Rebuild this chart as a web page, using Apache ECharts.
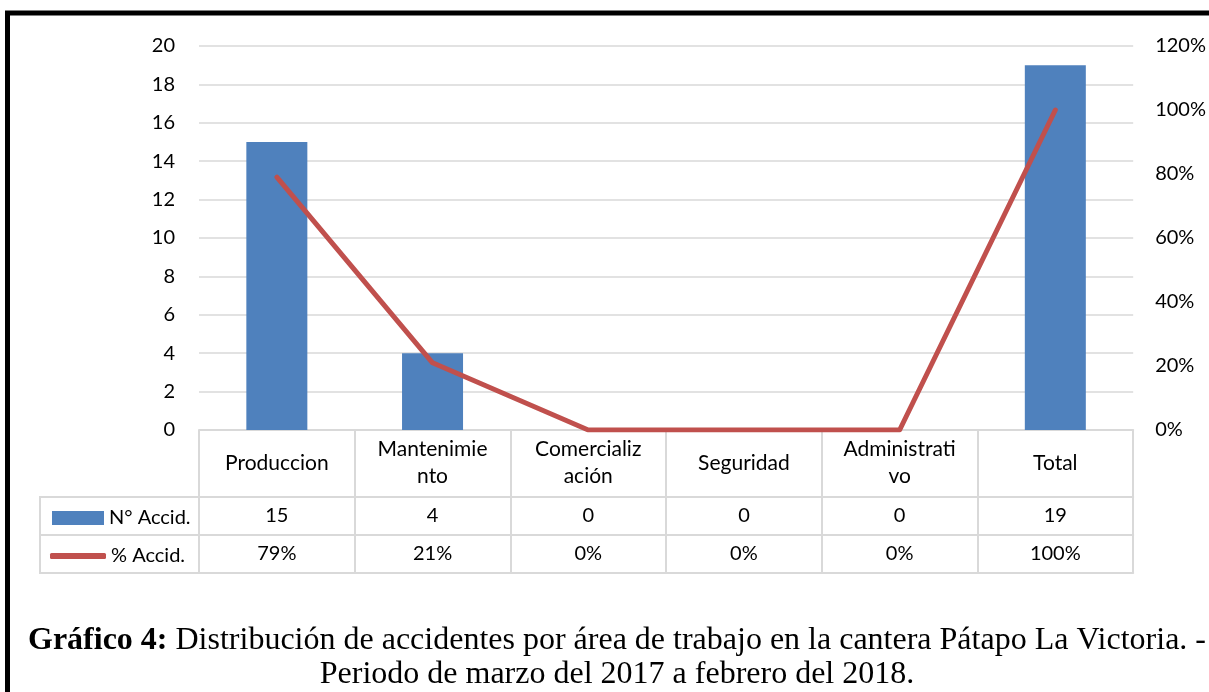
<!DOCTYPE html>
<html>
<head>
<meta charset="utf-8">
<script src="https://cdn.jsdelivr.net/npm/echarts@6/dist/echarts.min.js"></script>
<style>
  html, body { margin: 0; padding: 0; background: #fff; }
  #chart { width: 1209px; height: 692px; }
</style>
</head>
<body>
<div id="chart"></div>
<script>
// datos del grafico
var categorias = ["Produccion", "Mantenimie\nnto", "Comercializ\nación", "Seguridad", "Administrati\nvo", "Total"];
var numAccid = [15, 4, 0, 0, 0, 19];
var pctAccid = [0.79, 0.21, 0, 0, 0, 1.0];
var serieNombres = ["N° Accid.", "% Accid."];
var titulo = "Gráfico 4:";
var subtitulo = "Distribución de accidentes por área de trabajo en la cantera Pátapo La Victoria. -\nPeriodo de marzo del 2017 a febrero del 2018.";

var fuente = "Lato";
var gris = "#d9d9d9";

var myChart = echarts.init(document.getElementById("chart"));

function pct(v) {
  return Math.round(v * 100) + "%";
}

// ejes de la tabla de datos (debajo del grafico)
function ejeTabla(offset, formatter, showLabel) {
  return {
    type: "category",
    data: categorias,
    position: "bottom",
    offset: offset,
    axisLine: { show: true, onZero: false, lineStyle: { color: gris, width: 2 } },
    axisTick: { show: false },
    axisLabel: {
      show: showLabel,
      interval: 0,
      margin: 19,
      verticalAlign: "middle",
      fontSize: 20,
      fontFamily: fuente,
      color: "#000",
      formatter: formatter
    },
    splitLine: { show: false }
  };
}

myChart.setOption({
  animation: false,
  title: {
    left: 612,
    textAlign: "center",
    top: 619,
    text: "{b|" + titulo + "} " + subtitulo.replace("\n", "\n{n|") + "}",
    textStyle: {
      fontFamily: "Liberation Serif",
      fontSize: 32,
      fontWeight: "normal",
      color: "#000",
      lineHeight: 34,
      rich: {
        b: { fontFamily: "Liberation Serif", fontSize: 32, fontWeight: "bold", color: "#000", lineHeight: 34 },
        n: { fontFamily: "Liberation Serif", fontSize: 32, color: "#000", lineHeight: 34 }
      }
    }
  },
  legend: [
    {
      data: [{ name: serieNombres[0], icon: "rect" }],
      left: 47,
      top: 503,
      itemWidth: 52,
      itemHeight: 14,
      textStyle: { fontSize: 20, fontFamily: fuente, color: "#000" },
      selectedMode: false
    },
    {
      data: [{ name: serieNombres[1], icon: "roundRect", itemStyle: { color: "#c0504d" } }],
      left: 45,
      top: 541,
      itemWidth: 56,
      itemHeight: 6,
      textStyle: { fontSize: 20, fontFamily: fuente, color: "#000" },
      selectedMode: false
    }
  ],
  grid: { left: 199, right: 74, top: 46, bottom: 262, containLabel: false },
  xAxis: [
    {
      type: "category",
      data: categorias,
      position: "bottom",
      axisLine: { show: true, lineStyle: { color: gris, width: 2 } },
      axisTick: { show: true, interval: 0, length: 143, lineStyle: { color: gris, width: 2 } },
      axisLabel: {
        interval: 0,
        margin: 33,
        verticalAlign: "middle",
        lineHeight: 27,
        fontSize: 21,
        fontFamily: fuente,
        color: "#000"
      },
      splitLine: { show: false }
    },
    ejeTabla(67, function (v, i) { return String(numAccid[i]); }, true),
    ejeTabla(105, function (v, i) { return pct(pctAccid[i]); }, true),
    ejeTabla(143, null, false)
  ],
  yAxis: [
    {
      type: "value",
      min: 0,
      max: 20,
      interval: 2,
      axisLine: { show: false },
      axisTick: { show: false },
      axisLabel: { margin: 24, fontSize: 20, fontFamily: fuente, color: "#000" },
      splitLine: { show: true, lineStyle: { color: gris, width: 1.5 } }
    },
    {
      type: "value",
      min: 0,
      max: 1.2,
      interval: 0.2,
      position: "right",
      axisLine: { show: false },
      axisTick: { show: false },
      axisLabel: { margin: 22, fontSize: 20, fontFamily: fuente, color: "#000", formatter: pct },
      splitLine: { show: false }
    }
  ],
  series: [
    {
      name: serieNombres[0],
      type: "bar",
      data: numAccid,
      barWidth: 61,
      itemStyle: { color: "#4f81bd" },
      z: 2
    },
    {
      name: serieNombres[1],
      type: "line",
      yAxisIndex: 1,
      data: pctAccid,
      symbol: "none",
      lineStyle: { color: "#c0504d", width: 5, cap: "round", join: "round" },
      itemStyle: { color: "#c0504d" },
      z: 3
    }
  ],
  graphic: [
    // marco negro
    { type: "rect", z: 100, silent: true, shape: { x: 7.5, y: 13, width: 1300, height: 800 },
      style: { fill: "none", stroke: "#000", lineWidth: 5 } },
    // columna de la leyenda de la tabla
    { type: "line", shape: { x1: 40, y1: 497, x2: 199, y2: 497 }, style: { stroke: gris, lineWidth: 2 } },
    { type: "line", shape: { x1: 40, y1: 535, x2: 199, y2: 535 }, style: { stroke: gris, lineWidth: 2 } },
    { type: "line", shape: { x1: 40, y1: 573, x2: 199, y2: 573 }, style: { stroke: gris, lineWidth: 2 } },
    { type: "line", shape: { x1: 40, y1: 496, x2: 40, y2: 574 }, style: { stroke: gris, lineWidth: 2 } }
  ]
});
</script>
</body>
</html>
